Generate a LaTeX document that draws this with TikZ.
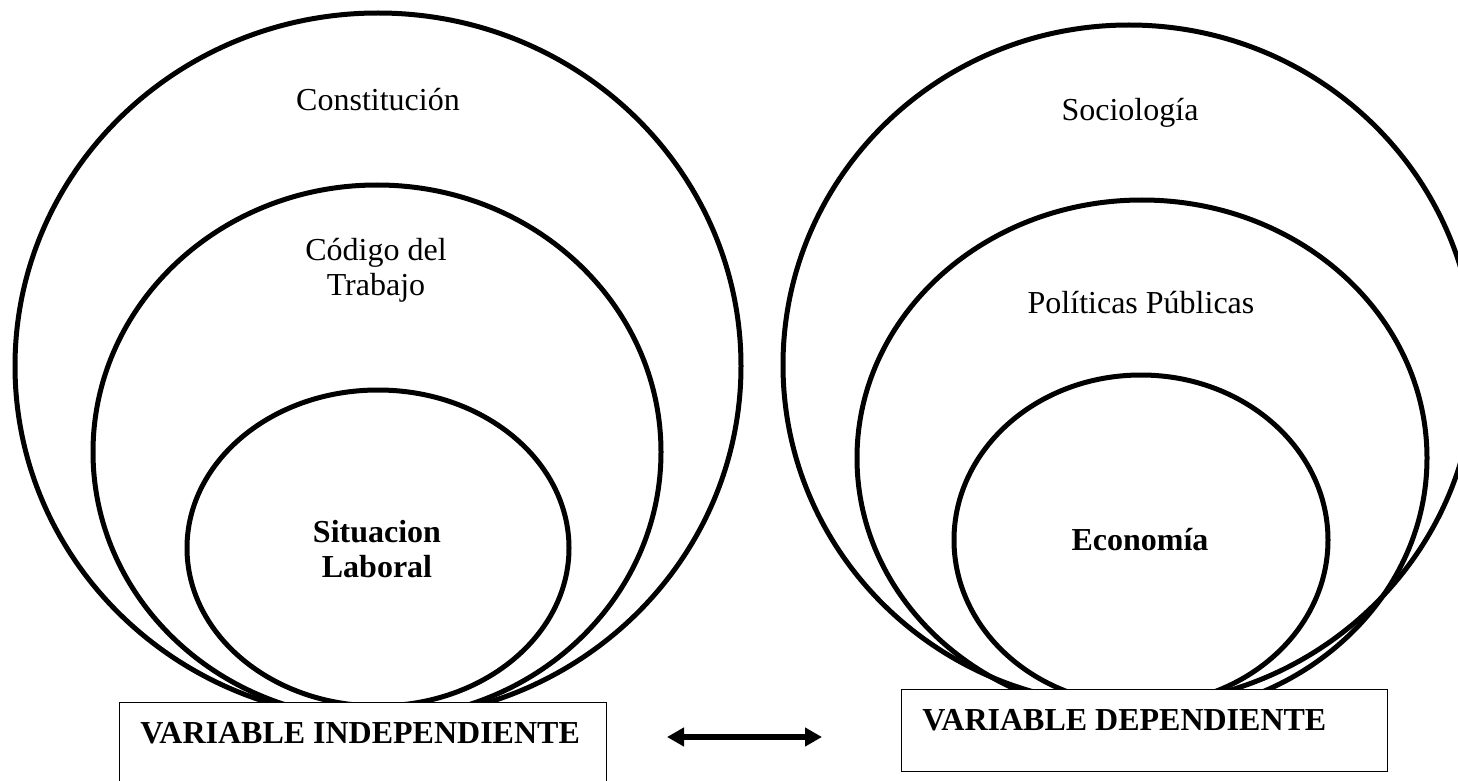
\documentclass[tikz,border=0pt]{standalone}
\usepackage{fontspec}
\setmainfont{Liberation Serif}
\usetikzlibrary{positioning, arrows.meta, shapes.geometric}
\tikzstyle{Ring} = [line width=2.5pt]
\tikzstyle{Label} = [align=center, font=\fontsize{16}{17.5}\selectfont]
\tikzstyle{BoldLabel} = [align=center, font=\fontsize{16}{17.5}\selectfont\bfseries]
\tikzstyle{VarBox} = [draw, fill=white, line width=0.6pt, anchor=north west]
\tikzstyle{VarText} = [anchor=west, inner sep=0pt, font=\fontsize{16}{17.5}\selectfont\bfseries]
\tikzstyle{Arrow} = [line width=3pt,
{Triangle[length=8.5pt, width=9pt]}-{Triangle[length=8.5pt, width=9pt]}]

\begin{document}
\begin{tikzpicture}[x=0.5pt, y=-0.5pt]
    \useasboundingbox (0,0) rectangle (1458,781);
    \clip (0,0) rectangle (1458,781);
    \fill[white] (0,0) rectangle (1458,781);

    % independent side
    \draw[Ring] (378,366) ellipse [x radius=363, y radius=353];
    \draw[Ring] (377,452) ellipse [x radius=284, y radius=267];
    \draw[Ring] (378,548) ellipse [x radius=191, y radius=158];
    % dependent side
    \draw[Ring] (1129,365) ellipse [x radius=346, y radius=340];
    \draw[Ring] (1142,458) ellipse [x radius=285, y radius=258];
    \draw[Ring] (1141,540) ellipse [x radius=187, y radius=165];

    \node[Label] (constitucion) at (378,100) {Constitución};
    \node[Label] (codigo) at (376,270) {Código del\\Trabajo};
    \node[BoldLabel] (situacion) at (377,549) {Situacion\\Laboral};
    \node[Label] (sociologia) at (1130,113) {Sociología};
    \node[Label] (politicas) at (1141,303) {Políticas Públicas};
    \node[BoldLabel] (economia) at (1140,540) {Economía};

    \node[VarBox, minimum width=243.5pt, minimum height=49pt] (indep) at (119,702) {};
    \node[VarBox, minimum width=243pt, minimum height=41pt] (dep) at (901,689) {};
    \node[VarText] (indeptext) at (140,733) {VARIABLE INDEPENDIENTE};
    \node[VarText] (deptext) at (922,720) {VARIABLE DEPENDIENTE};

    \coordinate (arrowL) at (667,737);
    \coordinate (arrowR) at (822,737);
    \draw[Arrow] (arrowL) -- (arrowR);
\end{tikzpicture}
\end{document}
